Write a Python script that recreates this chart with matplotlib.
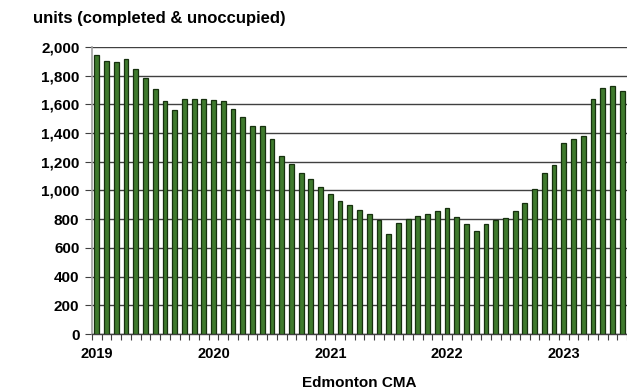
import numpy as np
import matplotlib.pyplot as plt

plt.rcParams['font.family'] = ['Liberation Sans', 'DejaVu Sans']

# Monthly units, Jan 2019 - Jul 2023
units = [1942, 1902, 1893, 1916, 1845, 1786, 1710, 1621, 1559, 1640, 1640, 1635,
         1631, 1626, 1568, 1514, 1447, 1447, 1359, 1243, 1183, 1120, 1078, 1022,
         974, 927, 897, 864, 834, 792, 695, 772, 801, 820, 834, 855,
         876, 813, 765, 718, 765, 792, 806, 855, 911, 1008, 1120, 1178,
         1333, 1361, 1378, 1638, 1717, 1731, 1693]
year_labels = ['2019', '2020', '2021', '2022', '2023']
y_ticks = list(range(0, 2001, 200))

x = np.arange(len(units))

fig = plt.figure(figsize=(6.27, 3.90), dpi=100)
ax = fig.add_axes([92 / 627, (390 - 334) / 390, (627 - 92) / 627, (334 - 47) / 390])

ax.bar(x, units, width=0.5, color='#3f7a2d', edgecolor='#16300e', linewidth=0.9, zorder=3)

ax.set_ylim(0, 2000)
ax.set_xlim(-0.5, 54.2)
ax.set_yticks(y_ticks)
ax.set_yticklabels([f'{v:,}' for v in y_ticks], fontsize=11, fontweight='bold')
ax.yaxis.grid(True, color='#404040', linewidth=1.0, zorder=0)

ax.set_xticks([12 * i for i in range(len(year_labels))])
ax.set_xticklabels(year_labels, fontsize=10.5, fontweight='bold')
ax.set_xticks(np.arange(-0.5, len(units), 1), minor=True)
ax.tick_params(axis='x', which='major', length=0, pad=9)
ax.tick_params(axis='x', which='minor', length=4, color='#404040', width=0.8)
ax.tick_params(axis='y', length=5, color='#404040', width=0.8, pad=4)

for side in ['top', 'right']:
    ax.spines[side].set_visible(False)
ax.spines['left'].set_color('#a0a0a0')
ax.spines['left'].set_linewidth(1.2)
ax.spines['bottom'].set_color('#404040')
ax.spines['bottom'].set_linewidth(1.0)

ax.set_xlabel('Edmonton CMA', fontsize=11, fontweight='bold', labelpad=11)
fig.text(33 / 627, 1 - 18 / 390, 'units (completed & unoccupied)', fontsize=12,
         fontweight='bold', va='center', ha='left')

fig.savefig('out.png', dpi=100)
